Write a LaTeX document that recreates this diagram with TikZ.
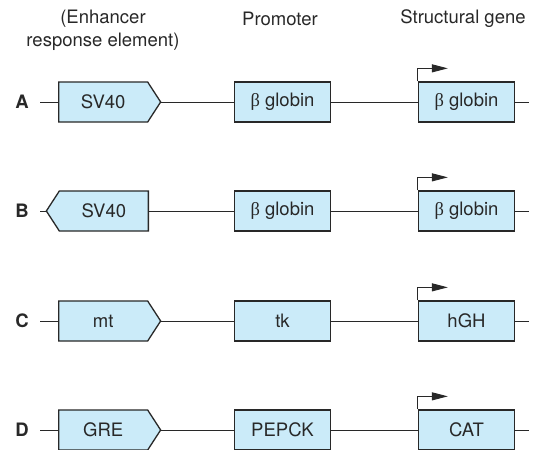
\documentclass[tikz,border=0pt]{standalone}
\usepackage{fontspec}
\setmainfont{TeX Gyre Heros}
\newfontfamily\greekfont{Liberation Serif}
\usetikzlibrary{arrows.meta,shapes.symbols}

\definecolor{boxblue}{RGB}{203,235,249}
\definecolor{inkgray}{RGB}{40,40,40}

\newcommand{\betaup}{{\greekfont β}}

\tikzset{
  element/.style={draw=inkgray, line width=1.3pt, fill=boxblue, text=inkgray,
    inner sep=0pt, minimum height=40pt, font=\fontsize{18.5pt}{22pt}\selectfont},
  genebox/.style={element, rectangle, minimum width=96pt},
  enhancer/.style={element, signal, signal pointer angle=114, minimum width=102pt},
  dna/.style={draw=inkgray, line width=1pt},
  tss/.style={draw=inkgray, line width=1pt, -{Triangle[length=16pt,width=8pt]}},
  rowlabel/.style={text=inkgray, font=\fontsize{18.5pt}{22pt}\selectfont\bfseries},
  header/.style={text=inkgray, align=center, font=\fontsize{18.5pt}{23pt}\selectfont}
}

\begin{document}
\begin{tikzpicture}[x=1pt,y=-1pt]
  \useasboundingbox (0,0) rectangle (536,450);
  % Column titles
  \node[header] (enh-title) at (103,30) {(Enhancer\\response element)};
  \node[header] (prom-title) at (280,19) {Promoter};
  \node[header] (gene-title) at (463,19) {Structural gene};

  % Row A
  \node[rowlabel] (a) at (22,102) {A};
  \coordinate (a-start) at (40,102);
  \coordinate (a-end) at (529,102);
  \node[enhancer, signal to=east, anchor=west] (a-enh) at (58,102) {SV40};
  \node[genebox] (a-prom) at (282.5,102) {\betaup\ globin};
  \node[genebox] (a-gene) at (466.5,102) {\betaup\ globin};
  \draw[dna] (a-start) -- (a-enh.west);
  \draw[dna] (a-enh.east) -- (a-prom.west);
  \draw[dna] (a-prom.east) -- (a-gene.west);
  \draw[dna] (a-gene.east) -- (a-end);
  \draw[tss] (a-gene.north west) -- ++(0,-13) -- ++(30,0);

  % Row B: enhancer reversed
  \node[rowlabel] (b) at (22,211) {B};
  \coordinate (b-start) at (40,211);
  \coordinate (b-end) at (529,211);
  \node[enhancer, signal to=west, anchor=east] (b-enh) at (149,211) {SV40};
  \node[genebox] (b-prom) at (282.5,211) {\betaup\ globin};
  \node[genebox] (b-gene) at (466.5,211) {\betaup\ globin};
  \draw[dna] (b-start) -- (b-enh.west);
  \draw[dna] (b-enh.east) -- (b-prom.west);
  \draw[dna] (b-prom.east) -- (b-gene.west);
  \draw[dna] (b-gene.east) -- (b-end);
  \draw[tss] (b-gene.north west) -- ++(0,-13) -- ++(30,0);

  % Row C
  \node[rowlabel] (c) at (22,321) {C};
  \coordinate (c-start) at (40,321);
  \coordinate (c-end) at (529,321);
  \node[enhancer, signal to=east, anchor=west] (c-enh) at (58,321) {mt};
  \node[genebox] (c-prom) at (282.5,321) {tk};
  \node[genebox] (c-gene) at (466.5,321) {hGH};
  \draw[dna] (c-start) -- (c-enh.west);
  \draw[dna] (c-enh.east) -- (c-prom.west);
  \draw[dna] (c-prom.east) -- (c-gene.west);
  \draw[dna] (c-gene.east) -- (c-end);
  \draw[tss] (c-gene.north west) -- ++(0,-13) -- ++(30,0);

  % Row D
  \node[rowlabel] (d) at (22,430) {D};
  \coordinate (d-start) at (40,430);
  \coordinate (d-end) at (529,430);
  \node[enhancer, signal to=east, anchor=west] (d-enh) at (58,430) {GRE};
  \node[genebox] (d-prom) at (282.5,430) {PEPCK};
  \node[genebox] (d-gene) at (466.5,430) {CAT};
  \draw[dna] (d-start) -- (d-enh.west);
  \draw[dna] (d-enh.east) -- (d-prom.west);
  \draw[dna] (d-prom.east) -- (d-gene.west);
  \draw[dna] (d-gene.east) -- (d-end);
  \draw[tss] (d-gene.north west) -- ++(0,-13) -- ++(30,0);
\end{tikzpicture}
\end{document}
